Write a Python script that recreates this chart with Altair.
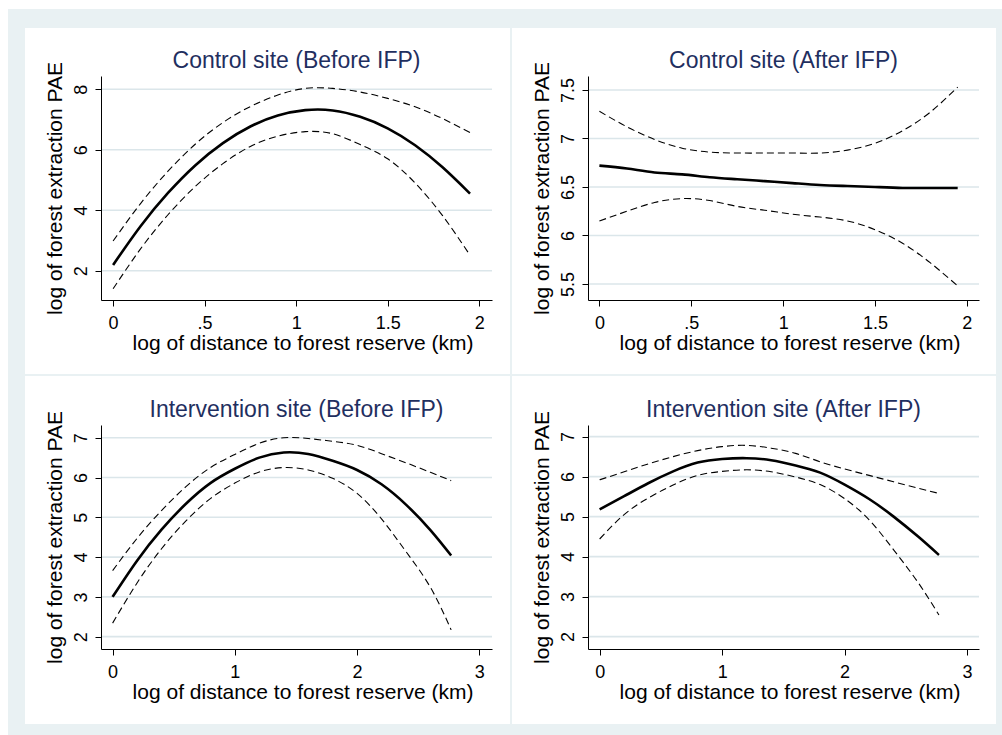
import altair as alt
import pandas as pd

FONT = "Liberation Sans"
NAVY = "#1f2f5f"
BACKDROP = "#e9f1f3"
GRID = "#dbe6ea"
PW, PH = 391, 224  # plot area of each panel

X_TITLE = "log of distance to forest reserve (km)"
Y_TITLE = "log of forest extraction PAE"

# Control site, before IFP: quadratic fit with 95% band
cb_x = [0, 0.15, 0.3, 0.45, 0.6, 0.75, 0.9, 1.05, 1.2, 1.35, 1.5, 1.65, 1.8, 1.95]
cb_fit = [2.19, 3.47, 4.57, 5.49, 6.22, 6.77, 7.13, 7.31, 7.30, 7.09, 6.71, 6.15, 5.42, 4.55]
cb_hi = [2.98, 4.22, 5.29, 6.19, 6.90, 7.43, 7.81, 8.03, 8.03, 7.91, 7.70, 7.42, 7.03, 6.57]
cb_lo = [1.40, 2.72, 3.85, 4.79, 5.54, 6.11, 6.45, 6.60, 6.53, 6.17, 5.70, 4.90, 3.82, 2.51]

# Control site, after IFP
ca_x = [0, 0.15, 0.3, 0.45, 0.6, 0.75, 0.9, 1.05, 1.2, 1.35, 1.5, 1.65, 1.8, 1.95]
ca_fit = [6.72, 6.69, 6.65, 6.63, 6.60, 6.58, 6.56, 6.54, 6.52, 6.51, 6.50, 6.49, 6.49, 6.49]
ca_hi = [7.28, 7.12, 6.99, 6.90, 6.86, 6.85, 6.85, 6.85, 6.85, 6.88, 6.95, 7.08, 7.27, 7.53]
ca_lo = [6.15, 6.25, 6.34, 6.38, 6.36, 6.30, 6.26, 6.22, 6.19, 6.15, 6.06, 5.92, 5.72, 5.48]

# Intervention site, before IFP
ib_x = [0, 0.2, 0.4, 0.6, 0.8, 1.0, 1.2, 1.4, 1.6, 1.8, 2.0, 2.2, 2.4, 2.6, 2.77]
ib_fit = [3.00, 3.91, 4.69, 5.34, 5.86, 6.22, 6.50, 6.63, 6.59, 6.42, 6.19, 5.83, 5.32, 4.68, 4.04]
ib_hi = [3.66, 4.47, 5.17, 5.77, 6.25, 6.58, 6.86, 7.00, 6.98, 6.91, 6.81, 6.60, 6.37, 6.13, 5.92]
ib_lo = [2.34, 3.35, 4.21, 4.91, 5.47, 5.86, 6.14, 6.25, 6.19, 5.98, 5.60, 4.96, 4.14, 3.24, 2.17]

# Intervention site, after IFP
ia_x = [0, 0.2, 0.4, 0.6, 0.8, 1.0, 1.2, 1.4, 1.6, 1.8, 2.0, 2.2, 2.4, 2.6, 2.77]
ia_fit = [5.18, 5.51, 5.84, 6.13, 6.35, 6.44, 6.46, 6.41, 6.28, 6.10, 5.80, 5.44, 5.00, 4.50, 4.04]
ia_hi = [5.92, 6.12, 6.32, 6.50, 6.65, 6.75, 6.78, 6.71, 6.58, 6.37, 6.19, 6.03, 5.87, 5.71, 5.58]
ia_lo = [4.44, 5.05, 5.47, 5.79, 6.03, 6.13, 6.17, 6.12, 5.99, 5.80, 5.45, 4.92, 4.17, 3.35, 2.54]

# Tick positions
x_ticks_short = [0, 0.5, 1, 1.5, 2]
x_ticks_long = [0, 1, 2, 3]
y_ticks_cb = [2, 4, 6, 8]
y_ticks_ca = [5.5, 6, 6.5, 7, 7.5]
y_ticks_int = [2, 3, 4, 5, 6, 7]

LABEL_EXPR = "datum.value == 0.5 ? '.5' : format(datum.value, '~g')"


def one_row():
    return pd.DataFrame({"k": [0]})


def box(x0, x1, y0, y1, color):
    """Background panel drawn in pixel space around the plot area."""
    return alt.Chart(one_row()).mark_rect(color=color, strokeWidth=0).encode(
        x=alt.value(x0), x2=alt.value(x1), y=alt.value(y0), y2=alt.value(y1)
    )


def axis_style():
    return dict(
        grid=False, zindex=1, domainColor="black", domainWidth=1,
        tickColor="black", tickWidth=1, tickSize=6,
        labelColor="black", labelFont=FONT, labelFontSize=18,
        labelFlush=False, labelOverlap=False, labelExpr=LABEL_EXPR,
        titleFont=FONT, titleFontSize=21, titleFontWeight="normal",
        titleColor="black", titleAlign="center", titleBaseline="alphabetic",
    )


def panel(title, xs, fit, hi, lo, x_dom, y_dom, x_ticks, y_ticks, boxes):
    n = len(xs)
    fit_df = pd.DataFrame({"x": xs, "y": fit})
    ci_df = pd.DataFrame({
        "x": xs + xs,
        "y": hi + lo,
        "series": ["upper"] * n + ["lower"] * n,
    })
    x_scale = alt.Scale(domain=x_dom, nice=False, zero=False)
    y_scale = alt.Scale(domain=y_dom, nice=False, zero=False)
    x_axis = alt.Axis(
        values=x_ticks, title=X_TITLE, labelAngle=0, labelAlign="center",
        labelBaseline="top", labelPadding=8, titleX=PW / 2 + 6, titleY=49,
        **axis_style()
    )
    y_axis = alt.Axis(
        values=y_ticks, title=Y_TITLE, labelAngle=270, labelAlign="center",
        labelBaseline="alphabetic", labelPadding=9, titleAngle=270,
        titleX=-40, titleY=PH / 2, **axis_style()
    )

    grid = alt.Chart(pd.DataFrame({"tick": y_ticks})).mark_rule(
        color=GRID, strokeWidth=1.6
    ).encode(
        y=alt.Y("tick:Q", scale=y_scale, axis=y_axis),
        x=alt.value(0), x2=alt.value(PW),
    )
    band = alt.Chart(ci_df).mark_line(
        color="black", strokeWidth=1.1, strokeDash=[7, 4], interpolate="natural"
    ).encode(
        x=alt.X("x:Q", scale=x_scale, axis=x_axis),
        y=alt.Y("y:Q", scale=y_scale, axis=y_axis),
        detail="series:N",
    )
    curve = alt.Chart(fit_df).mark_line(
        color="black", strokeWidth=2.6, interpolate="natural"
    ).encode(
        x=alt.X("x:Q", scale=x_scale, axis=x_axis),
        y=alt.Y("y:Q", scale=y_scale, axis=y_axis),
    )
    head = alt.Chart(one_row()).mark_text(
        font=FONT, fontSize=23, color=NAVY, align="center", baseline="alphabetic"
    ).encode(x=alt.value(PW / 2), y=alt.value(-8), text=alt.value(title))

    return alt.layer(*boxes, grid, band, curve, head).properties(width=PW, height=PH)


p1 = panel(
    "Control site (Before IFP)", cb_x, cb_fit, cb_hi, cb_lo,
    [-0.066, 2.07], [1.03, 8.44], x_ticks_short, y_ticks_cb,
    [box(-101, 901, -76, 659, "white"), box(-93, 901, -67, 659, BACKDROP),
     box(-76, 409, -48, 298, "white")],
)
p2 = panel(
    "Control site (After IFP)", ca_x, ca_fit, ca_hi, ca_lo,
    [-0.062, 2.066], [5.335, 7.644], x_ticks_short, y_ticks_ca,
    [box(-76, 408, -48, 298, "white")],
)
p3 = panel(
    "Intervention site (Before IFP)", ib_x, ib_fit, ib_hi, ib_lo,
    [-0.095, 3.104], [1.69, 7.32], x_ticks_long, y_ticks_int,
    [box(-76, 409, -49, 299, "white")],
)
p4 = panel(
    "Intervention site (After IFP)", ia_x, ia_fit, ia_hi, ia_lo,
    [-0.095, 3.097], [1.69, 7.29], x_ticks_long, y_ticks_int,
    [box(-76, 408, -49, 299, "white")],
)

chart = alt.concat(
    p1, p2, p3, p4, columns=2, spacing={"row": 125, "column": 96}, bounds="flush"
).properties(padding=0).configure_view(strokeWidth=0)

chart.save("out.html", embed_options={"renderer": "svg", "actions": False})
